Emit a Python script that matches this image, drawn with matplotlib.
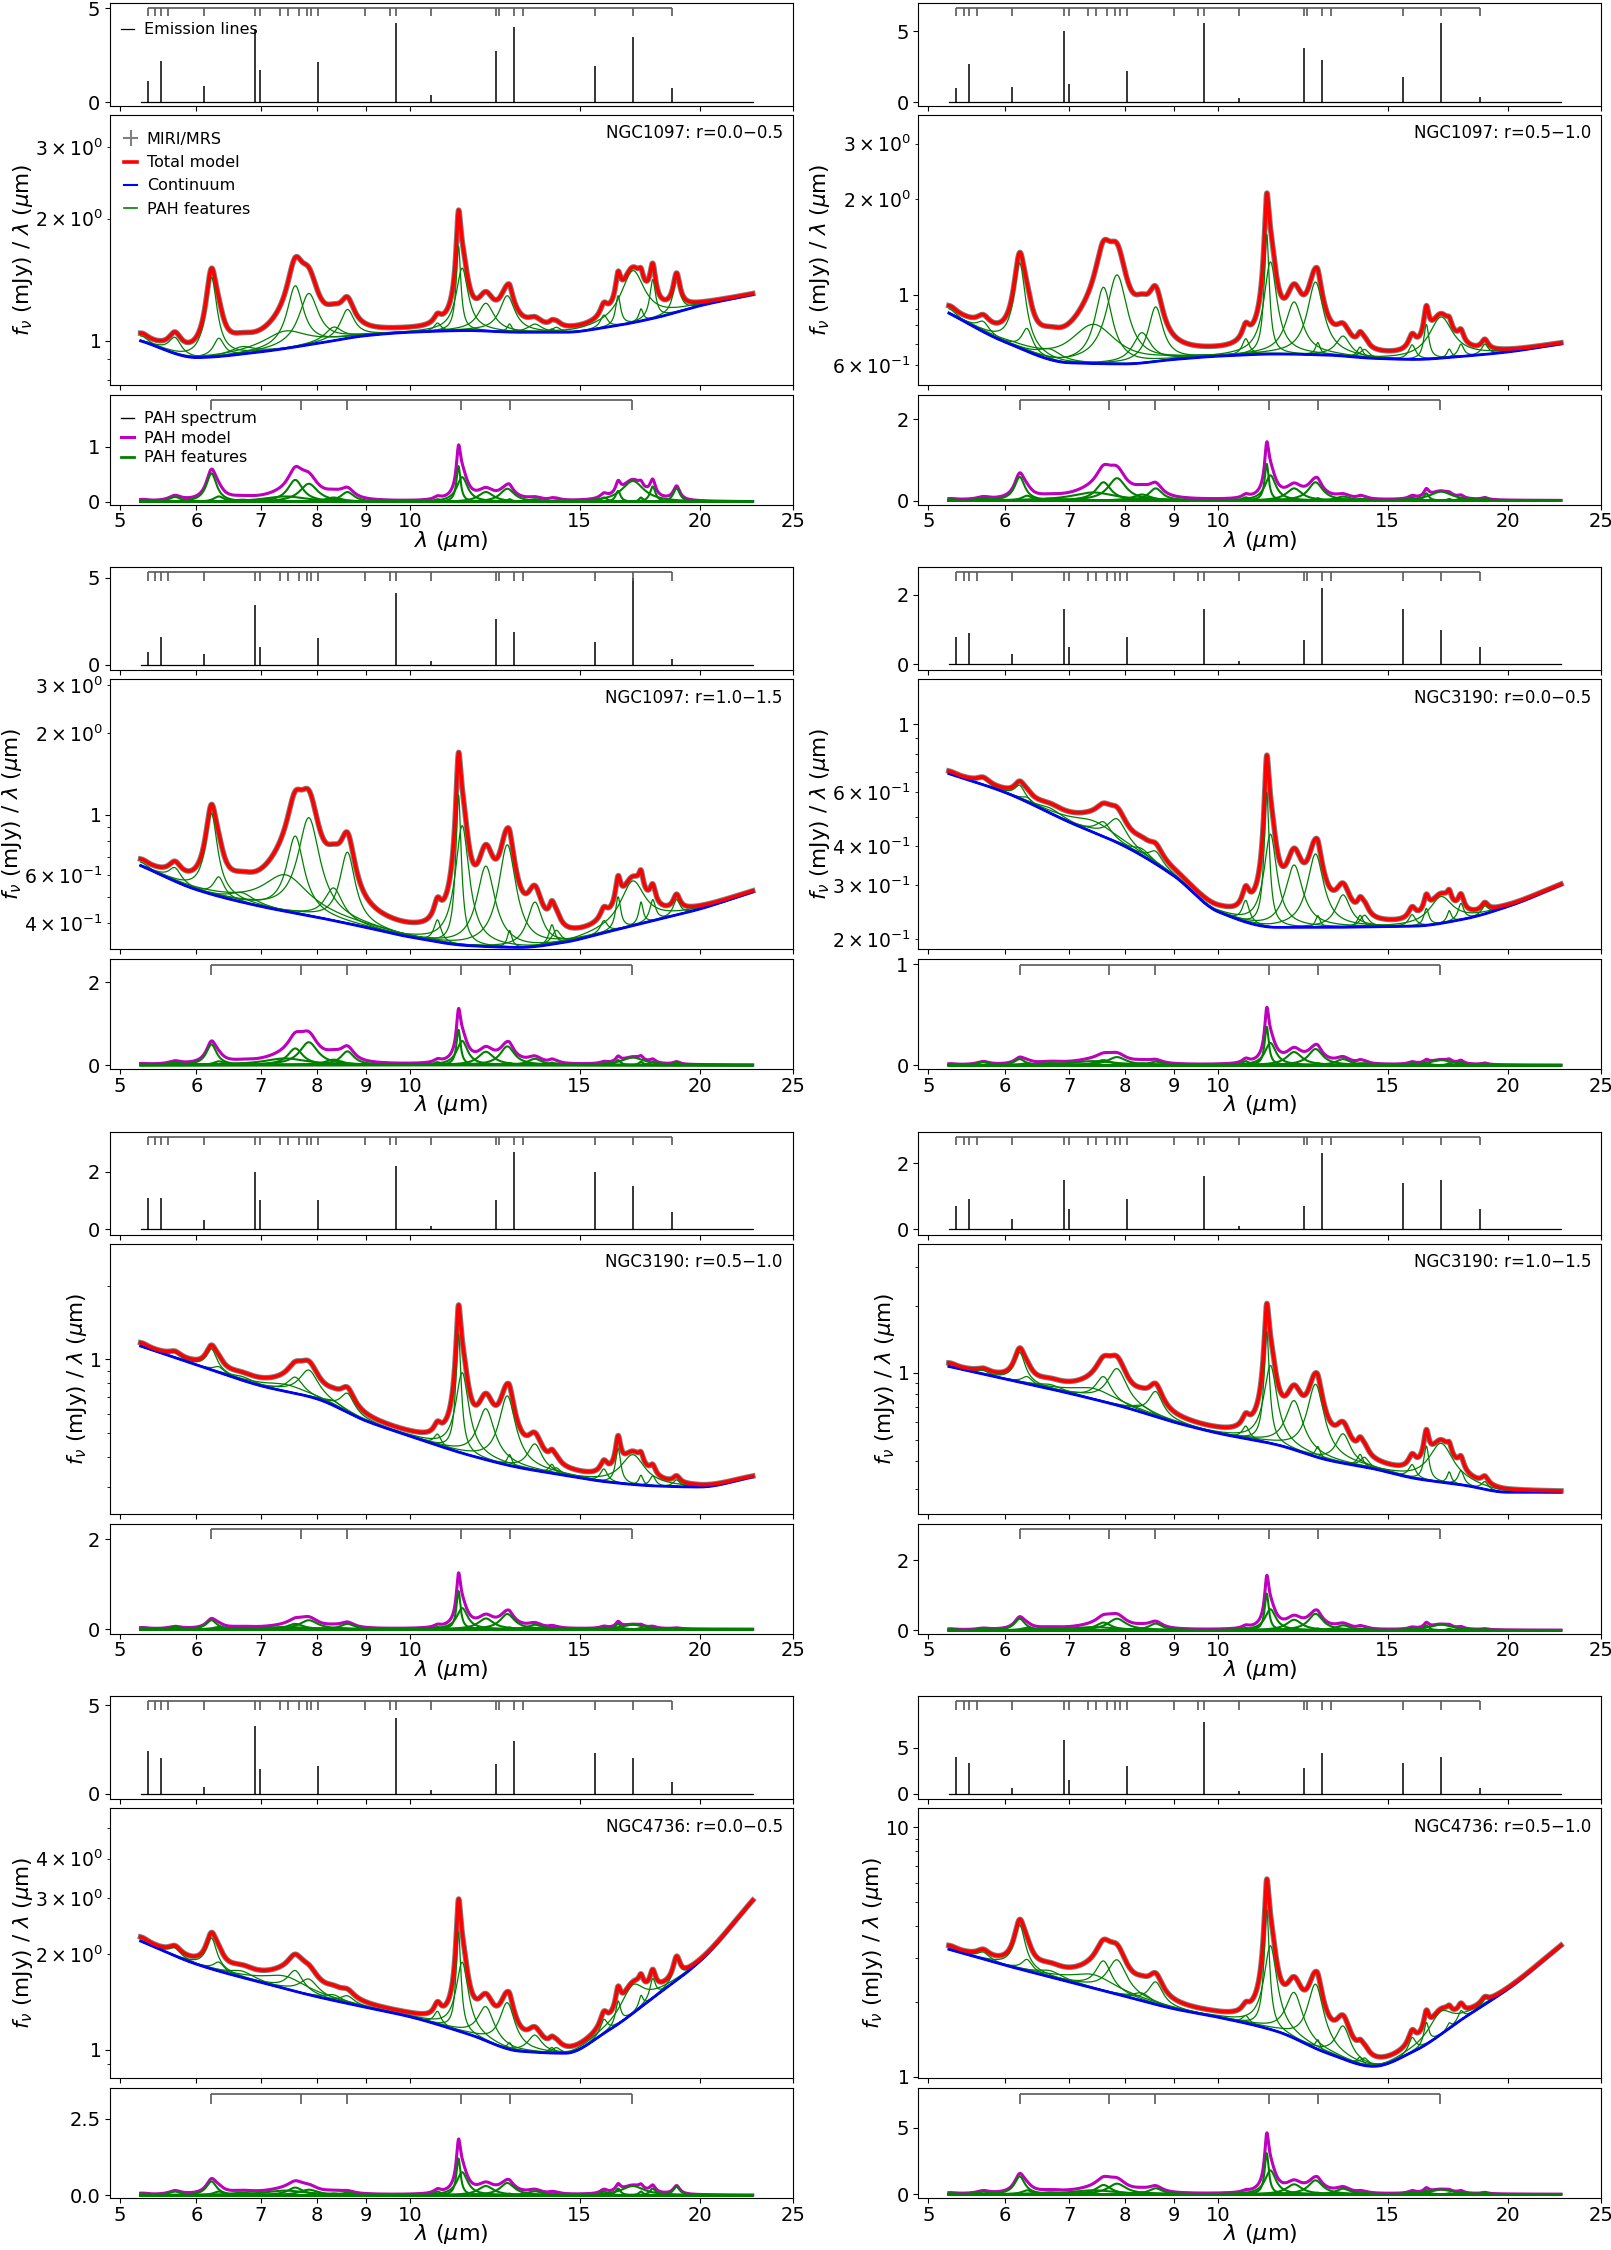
import numpy as np
import matplotlib
matplotlib.use("Agg")
import matplotlib.pyplot as plt
from matplotlib.ticker import LogFormatterSciNotation, NullLocator, FixedLocator, FixedFormatter
from matplotlib.lines import Line2D

# ---------------- data ----------------
panel_names = ["NGC1097: r=0.0\u22120.5", "NGC1097: r=0.5\u22121.0",
               "NGC1097: r=1.0\u22121.5", "NGC3190: r=0.0\u22120.5",
               "NGC3190: r=0.5\u22121.0", "NGC3190: r=1.0\u22121.5",
               "NGC4736: r=0.0\u22120.5", "NGC4736: r=0.5\u22121.0"]

wave_range = [5.25, 22.7]

# PAH features: centre (um) and fractional FWHM
pah_wave = [5.27, 5.70, 6.22, 6.33, 6.69, 7.42, 7.60, 7.85, 8.33, 8.61, 10.68, 11.23, 11.33,
            11.99, 12.62, 12.69, 13.48, 14.04, 14.19, 15.90, 16.45, 17.04, 17.375, 17.87, 18.92]
pah_fwhm = [0.034, 0.035, 0.030, 0.030, 0.070, 0.126, 0.044, 0.053, 0.050, 0.039, 0.020, 0.012, 0.032,
            0.045, 0.042, 0.013, 0.040, 0.016, 0.025, 0.020, 0.014, 0.065, 0.012, 0.016, 0.019]

# PAH feature peak amplitudes per panel
amp_p1 = [0.03, 0.09, 0.52, 0.10, 0.04, 0.10, 0.40, 0.33, 0.08, 0.18, 0.05, 0.65, 0.45,
          0.18, 0.24, 0.05, 0.05, 0.02, 0.03, 0.08, 0.20, 0.38, 0.08, 0.28, 0.25]
amp_p2 = [0.03, 0.06, 0.58, 0.12, 0.05, 0.20, 0.45, 0.55, 0.15, 0.30, 0.08, 0.90, 0.62,
          0.30, 0.45, 0.06, 0.10, 0.05, 0.04, 0.07, 0.18, 0.22, 0.04, 0.06, 0.05]
amp_p3 = [0.02, 0.07, 0.50, 0.09, 0.04, 0.16, 0.40, 0.55, 0.13, 0.33, 0.07, 0.85, 0.58,
          0.32, 0.45, 0.05, 0.15, 0.06, 0.04, 0.04, 0.12, 0.18, 0.08, 0.08, 0.06]
amp_p4 = [0.01, 0.03, 0.06, 0.02, 0.02, 0.04, 0.05, 0.08, 0.02, 0.035, 0.04, 0.38, 0.22,
          0.13, 0.16, 0.02, 0.06, 0.02, 0.02, 0.02, 0.03, 0.05, 0.02, 0.03, 0.015]
amp_p5 = [0.03, 0.05, 0.20, 0.05, 0.03, 0.05, 0.12, 0.20, 0.03, 0.12, 0.05, 0.85, 0.47,
          0.24, 0.34, 0.04, 0.10, 0.03, 0.02, 0.04, 0.12, 0.10, 0.03, 0.03, 0.02]
amp_p6 = [0.03, 0.04, 0.33, 0.07, 0.04, 0.09, 0.22, 0.33, 0.05, 0.19, 0.07, 1.05, 0.60,
          0.30, 0.47, 0.05, 0.14, 0.05, 0.04, 0.05, 0.14, 0.16, 0.04, 0.05, 0.025]
amp_p7 = [0.05, 0.12, 0.45, 0.12, 0.08, 0.15, 0.25, 0.18, 0.06, 0.08, 0.12, 1.20, 0.75,
          0.30, 0.40, 0.05, 0.13, 0.04, 0.04, 0.12, 0.22, 0.30, 0.12, 0.22, 0.28]
amp_p8 = [0.08, 0.20, 1.35, 0.30, 0.15, 0.30, 0.70, 0.80, 0.15, 0.45, 0.12, 3.10, 1.80,
          0.75, 1.05, 0.12, 0.42, 0.08, 0.08, 0.18, 0.30, 0.35, 0.08, 0.15, 0.10]

# continuum values at node wavelengths
cont_wave = [5.25, 6.0, 7.0, 8.0, 9.0, 10.0, 11.5, 13.0, 14.5, 16.0, 18.0, 20.0, 22.7]
cont_p1 = [1.00, 0.91, 0.94, 0.985, 1.03, 1.05, 1.06, 1.05, 1.05, 1.08, 1.14, 1.22, 1.30]
cont_p2 = [0.875, 0.71, 0.61, 0.605, 0.625, 0.64, 0.65, 0.645, 0.63, 0.625, 0.64, 0.66, 0.70]
cont_p3 = [0.65, 0.53, 0.46, 0.42, 0.385, 0.355, 0.33, 0.325, 0.34, 0.37, 0.41, 0.45, 0.52]
cont_p4 = [0.69, 0.60, 0.48, 0.40, 0.32, 0.245, 0.218, 0.218, 0.219, 0.22, 0.232, 0.255, 0.30]
cont_p5 = [1.135, 0.95, 0.78, 0.69, 0.56, 0.485, 0.406, 0.36, 0.335, 0.315, 0.303, 0.30, 0.33]
cont_p6 = [1.07, 0.94, 0.81, 0.70, 0.60, 0.535, 0.475, 0.405, 0.37, 0.335, 0.312, 0.29, 0.29]
cont_p7 = [2.20, 1.86, 1.63, 1.47, 1.36, 1.27, 1.12, 0.99, 0.975, 1.14, 1.48, 1.90, 2.95]
cont_p8 = [3.24, 2.80, 2.40, 2.10, 1.87, 1.73, 1.52, 1.24, 1.10, 1.27, 1.72, 2.25, 3.35]

# emission lines: wavelengths and peak heights per panel
line_wave = [5.34, 5.51, 6.11, 6.91, 6.99, 8.03, 9.67, 10.51, 12.28, 12.81, 15.56, 17.03, 18.71]
line_p1 = [1.13, 2.2, 0.83, 3.9, 1.72, 2.16, 4.2, 0.35, 2.7, 4.0, 1.9, 3.45, 0.76]
line_p2 = [1.0, 2.7, 1.1, 5.0, 1.3, 2.2, 5.6, 0.3, 3.8, 3.0, 1.8, 5.6, 0.4]
line_p3 = [0.7, 1.6, 0.6, 3.4, 1.0, 1.5, 4.1, 0.2, 2.6, 1.9, 1.3, 5.0, 0.3]
line_p4 = [0.8, 0.9, 0.3, 1.6, 0.5, 0.8, 1.6, 0.1, 0.7, 2.2, 1.6, 1.0, 0.5]
line_p5 = [1.1, 1.1, 0.3, 2.0, 1.0, 1.0, 2.2, 0.1, 1.0, 2.7, 2.0, 1.5, 0.6]
line_p6 = [0.7, 0.9, 0.3, 1.5, 0.6, 0.9, 1.6, 0.1, 0.7, 2.3, 1.4, 1.5, 0.6]
line_p7 = [2.4, 2.0, 0.4, 3.8, 1.4, 1.6, 4.3, 0.2, 1.7, 3.0, 2.3, 2.0, 0.7]
line_p8 = [4.0, 3.3, 0.6, 5.8, 1.5, 3.0, 7.8, 0.3, 2.8, 4.4, 3.3, 4.0, 0.6]

# marker positions of the brackets
line_marks = [5.34, 5.44, 5.51, 5.61, 6.11, 6.91, 6.99, 7.32, 7.47, 7.66, 7.82, 7.90, 8.03,
              8.99, 9.53, 9.67, 10.51, 12.28, 12.37, 12.81, 13.10, 15.56, 17.03, 18.71]
pah_marks = [6.22, 7.7, 8.6, 11.3, 12.7, 17.0]

x_ticks = [5, 6, 7, 8, 9, 10, 15, 20, 25]
x_tick_labels = ["5", "6", "7", "8", "9", "10", "15", "20", "25"]

# axis ranges per panel
main_ylim = [(0.78, 3.6), (0.52, 3.7), (0.32, 3.15), (0.185, 1.40),
             (0.233, 2.98), (0.232, 3.82), (0.813, 5.76), (0.985, 11.9)]
line_ylim = [(-0.2, 5.3), (-0.25, 7.0), (-0.33, 5.6), (-0.17, 2.8),
             (-0.2, 3.4), (-0.17, 2.95), (-0.3, 5.5), (-0.6, 10.6)]
line_yticks = [[0, 5], [0, 5], [0, 5], [0, 2], [0, 2], [0, 2], [0, 5], [0, 5]]
pah_ylim = [(-0.05, 1.95), (-0.1, 2.6), (-0.1, 2.55), (-0.04, 1.05),
            (-0.1, 2.35), (-0.1, 3.05), (-0.1, 3.5), (-0.3, 8.0)]
pah_yticks = [[0, 1], [0, 2], [0, 2], [0, 1], [0, 2], [0, 2], [0.0, 2.5], [0, 5]]

amps = [amp_p1, amp_p2, amp_p3, amp_p4, amp_p5, amp_p6, amp_p7, amp_p8]
conts = [cont_p1, cont_p2, cont_p3, cont_p4, cont_p5, cont_p6, cont_p7, cont_p8]
lines = [line_p1, line_p2, line_p3, line_p4, line_p5, line_p6, line_p7, line_p8]


# ---------------- helpers ----------------
def drude(w, w0, frac, amp):
    return amp * frac ** 2 / ((w / w0 - w0 / w) ** 2 + frac ** 2)


def pchip_loglog(xn, yn, x):
    xn = np.log10(np.asarray(xn, float))
    yn = np.log10(np.asarray(yn, float))
    x = np.log10(x)
    n = len(xn)
    h = np.diff(xn)
    d = np.diff(yn) / h
    m = np.zeros(n)
    m[0], m[-1] = d[0], d[-1]
    for k in range(1, n - 1):
        if d[k - 1] * d[k] <= 0:
            m[k] = 0.0
        else:
            w1 = 2 * h[k] + h[k - 1]
            w2 = h[k] + 2 * h[k - 1]
            m[k] = (w1 + w2) / (w1 / d[k - 1] + w2 / d[k])
    idx = np.clip(np.searchsorted(xn, x) - 1, 0, n - 2)
    t = (x - xn[idx]) / h[idx]
    h00 = 2 * t ** 3 - 3 * t ** 2 + 1
    h10 = t ** 3 - 2 * t ** 2 + t
    h01 = -2 * t ** 3 + 3 * t ** 2
    h11 = t ** 3 - t ** 2
    y = h00 * yn[idx] + h10 * h[idx] * m[idx] + h01 * yn[idx + 1] + h11 * h[idx] * m[idx + 1]
    return 10 ** y


class LogFmt(LogFormatterSciNotation):
    def __call__(self, x, pos=None):
        s = super().__call__(x, pos)
        if s == "":
            return s
        if abs(x - 1) < 1e-9:
            return r"$\mathdefault{1}$"
        if abs(x - 10) < 1e-8:
            return r"$\mathdefault{10}$"
        return s


def set_xaxis(ax, labels):
    ax.set_xscale("log")
    ax.set_xlim(4.88, 25)
    ax.xaxis.set_major_locator(FixedLocator(x_ticks))
    ax.xaxis.set_major_formatter(FixedFormatter(x_tick_labels))
    ax.xaxis.set_minor_locator(NullLocator())
    ax.tick_params(axis="both", which="both", labelsize=14)
    ax.tick_params(axis="x", pad=2)
    if not labels:
        ax.tick_params(axis="x", labelbottom=False)


def bracket(ax, marks, y0, y1, color="0.35"):
    tr = ax.get_xaxis_transform()
    ax.plot([marks[0], marks[-1]], [y0, y0], color=color, lw=1.2, transform=tr,
            solid_capstyle="butt")
    for m in marks:
        ax.plot([m, m], [y0, y1], color=color, lw=1.2, transform=tr, solid_capstyle="butt")


# ---------------- figure ----------------
fig = plt.figure(figsize=(16.11, 22.5), dpi=100)
W = np.geomspace(wave_range[0], wave_range[1], 4000)

col_x = [0.0683, 0.570]
width = 0.424
pitch = 0.2509

for i in range(8):
    row, col = divmod(i, 2)
    x0 = col_x[col]
    off = row * pitch
    ax_e = fig.add_axes([x0, 0.953 - off, width, 0.0458])
    ax_m = fig.add_axes([x0, 0.829 - off, width, 0.120])
    ax_p = fig.add_axes([x0, 0.7757 - off, width, 0.0489])

    cont = pchip_loglog(cont_wave, conts[i], W)
    feats = [drude(W, w0, fr, a) for w0, fr, a in zip(pah_wave, pah_fwhm, amps[i])]
    pah = np.sum(feats, axis=0)
    total = cont + pah

    # ---- emission line panel ----
    ax_e.plot(wave_range, [0, 0], color="black", lw=0.9)
    ax_e.vlines(line_wave, 0, lines[i], color="black", lw=1.1)
    bracket(ax_e, line_marks, 0.95, 0.87)
    ax_e.set_ylim(*line_ylim[i])
    ax_e.set_yticks(line_yticks[i])
    set_xaxis(ax_e, False)

    # ---- main panel ----
    ax_m.plot(W, total, color="gray", lw=4.0, zorder=1)
    for f in feats:
        ax_m.plot(W, cont + f, color="green", lw=0.9, zorder=2)
    ax_m.plot(W, cont, color="blue", lw=2.0, zorder=3)
    ax_m.plot(W, total, color="red", lw=2.6, zorder=4)
    ax_m.set_yscale("log")
    ax_m.set_ylim(*main_ylim[i])
    ax_m.yaxis.set_major_formatter(LogFmt())
    ax_m.yaxis.set_minor_formatter(LogFmt(labelOnlyBase=False))
    set_xaxis(ax_m, False)
    ax_m.tick_params(axis="y", which="both", labelsize=13.5, pad=3)
    ax_m.set_ylabel(r"$f_\nu$ (mJy) / $\lambda$ ($\mu$m)", fontsize=15.5, labelpad=0)
    ax_m.text(0.985, 0.965, panel_names[i], transform=ax_m.transAxes,
              ha="right", va="top", fontsize=12)

    # ---- PAH panel ----
    ax_p.plot(W, pah, color="black", lw=1.2, zorder=1)
    ax_p.plot(W, pah, color="m", lw=2.2, zorder=2)
    for f in feats:
        ax_p.plot(W, f, color="green", lw=1.5, zorder=3)
    bracket(ax_p, pah_marks, 0.95, 0.86)
    ax_p.set_ylim(*pah_ylim[i])
    ax_p.set_yticks(pah_yticks[i])
    set_xaxis(ax_p, True)
    ax_p.set_xlabel(r"$\lambda$ ($\mu$m)", fontsize=16, labelpad=-2)

    if i == 0:
        h_line = Line2D([], [], color="black", lw=0.9)
        ax_e.legend([h_line], ["Emission lines"], loc="upper left",
                    bbox_to_anchor=(0.0, 0.92), frameon=False, fontsize=11.5,
                    handlelength=0.8, handletextpad=0.6, borderaxespad=0.3)
        h_data = ax_m.errorbar([], [], yerr=[], color="gray", lw=1.5)
        h_tot = Line2D([], [], color="red", lw=2.6)
        h_cont = Line2D([], [], color="blue", lw=1.5)
        h_pah = Line2D([], [], color="green", lw=1.2)
        ax_m.legend([h_data, h_tot, h_cont, h_pah],
                    ["MIRI/MRS", "Total model", "Continuum", "PAH features"],
                    loc="upper left", bbox_to_anchor=(0.0, 0.99), frameon=False,
                    fontsize=11.5, handlelength=0.8, handletextpad=0.6,
                    labelspacing=0.52)
        h_ps = Line2D([], [], color="black", lw=1.0)
        h_pm = Line2D([], [], color="m", lw=2.2)
        h_pf = Line2D([], [], color="green", lw=2.0)
        ax_p.legend([h_ps, h_pm, h_pf], ["PAH spectrum", "PAH model", "PAH features"],
                    loc="upper left", bbox_to_anchor=(0.0, 0.95), frameon=False,
                    fontsize=11.5, handlelength=0.8, handletextpad=0.6,
                    borderaxespad=0.3, labelspacing=0.28)

fig.savefig("out.png", dpi=100)
